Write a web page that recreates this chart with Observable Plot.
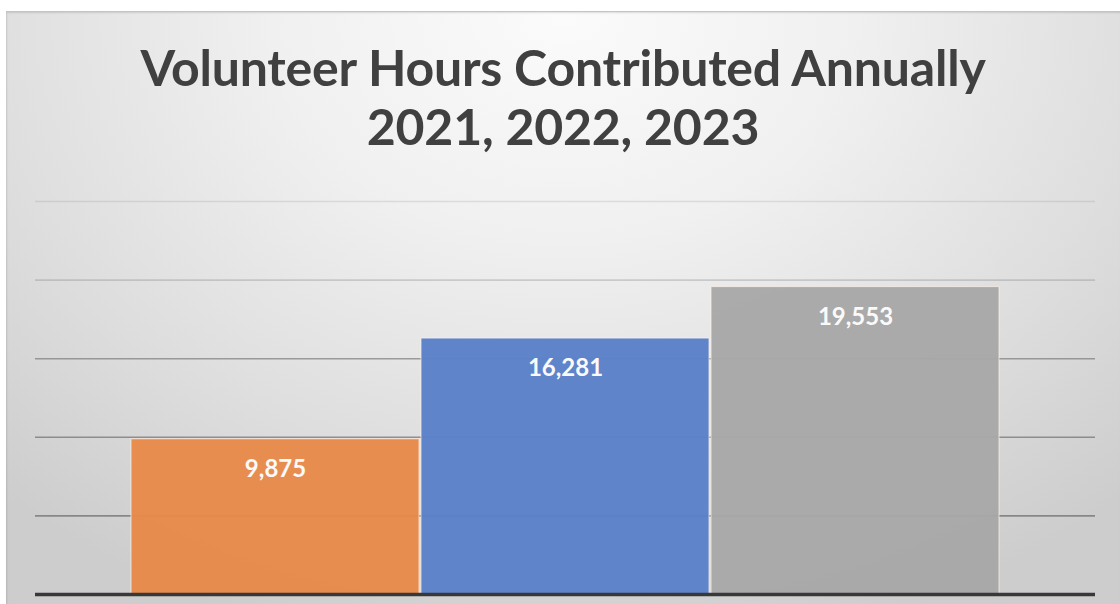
<!DOCTYPE html>
<html>
<head>
<meta charset="utf-8">
<script src="https://cdn.jsdelivr.net/npm/d3@7"></script>
<script src="https://cdn.jsdelivr.net/npm/@observablehq/plot@0.6"></script>
<style>
  html, body { margin: 0; padding: 0; background: #ffffff; }
  #page { position: relative; width: 1120px; height: 604px; overflow: hidden; background: #ffffff; }
  #frame {
    position: absolute; left: 6px; top: 11px; width: 1114px; height: 593px;
    background: radial-gradient(ellipse 75% 110% at 50% 0%, #fbfbfb 0%, #f0f0f0 35%, #dedede 70%, #cdcdcd 100%);
    border-top: 1px solid #c4c4c4;
    box-shadow: inset 1px 1px 2px rgba(0,0,0,0.12);
  }
  #title {
    height: 169px; box-sizing: border-box; padding-top: 26px;
    text-align: center; font-family: Lato, "Open Sans", sans-serif; font-weight: 700;
    font-size: 50px; line-height: 59px; color: #404040; letter-spacing: -0.2px;
  }
  #chart svg { display: block; }
</style>
</head>
<body>
<div id="page">
  <div id="frame">
    <div id="title">Volunteer Hours Contributed Annually<br>2021, 2022, 2023</div>
    <div id="chart"></div>
  </div>
</div>
<script>
const years = ["2021", "2022", "2023"];
const hours = [9875, 16281, 19553];
const barColors = ["#E8894A", "#5B80C9", "#A8A8A8"];
const gridValues = [5000, 10000, 15000, 20000, 25000];
const gridOpacity = [0.85, 0.8, 0.7, 0.3, 0.18];

const data = years.map((y, i) => ({year: y, hours: hours[i], color: barColors[i]}));
const grid = gridValues.map((v, i) => ({v, o: gridOpacity[i]}));

const plot = Plot.plot({
  width: 1114,
  height: 424,
  marginTop: 20,
  marginBottom: 11,
  marginLeft: 29,
  marginRight: 25,
  style: {background: "transparent", overflow: "visible"},
  x: {domain: years, paddingInner: 0.007, paddingOuter: 0.33, axis: null},
  y: {domain: [0, 25000], axis: null},
  marks: [
    Plot.ruleY(grid, {y: "v", stroke: "#7a7a7a", strokeWidth: 1.6, strokeOpacity: "o"}),
    Plot.barY(data, {x: "year", y: "hours", fill: "color", fillOpacity: 0.96, stroke: "#fff4ea", strokeWidth: 1, strokeOpacity: 0.7}),
    Plot.ruleY([0], {stroke: "#383838", strokeWidth: 3.5}),
    Plot.text(data, {x: "year", y: "hours", text: d => d3.format(",")(d.hours), dy: 30, fill: "#fafafa", fontSize: 24, fontWeight: 700, fontFamily: "Lato, 'Open Sans', sans-serif"})
  ]
});
document.getElementById("chart").appendChild(plot);
</script>
</body>
</html>
